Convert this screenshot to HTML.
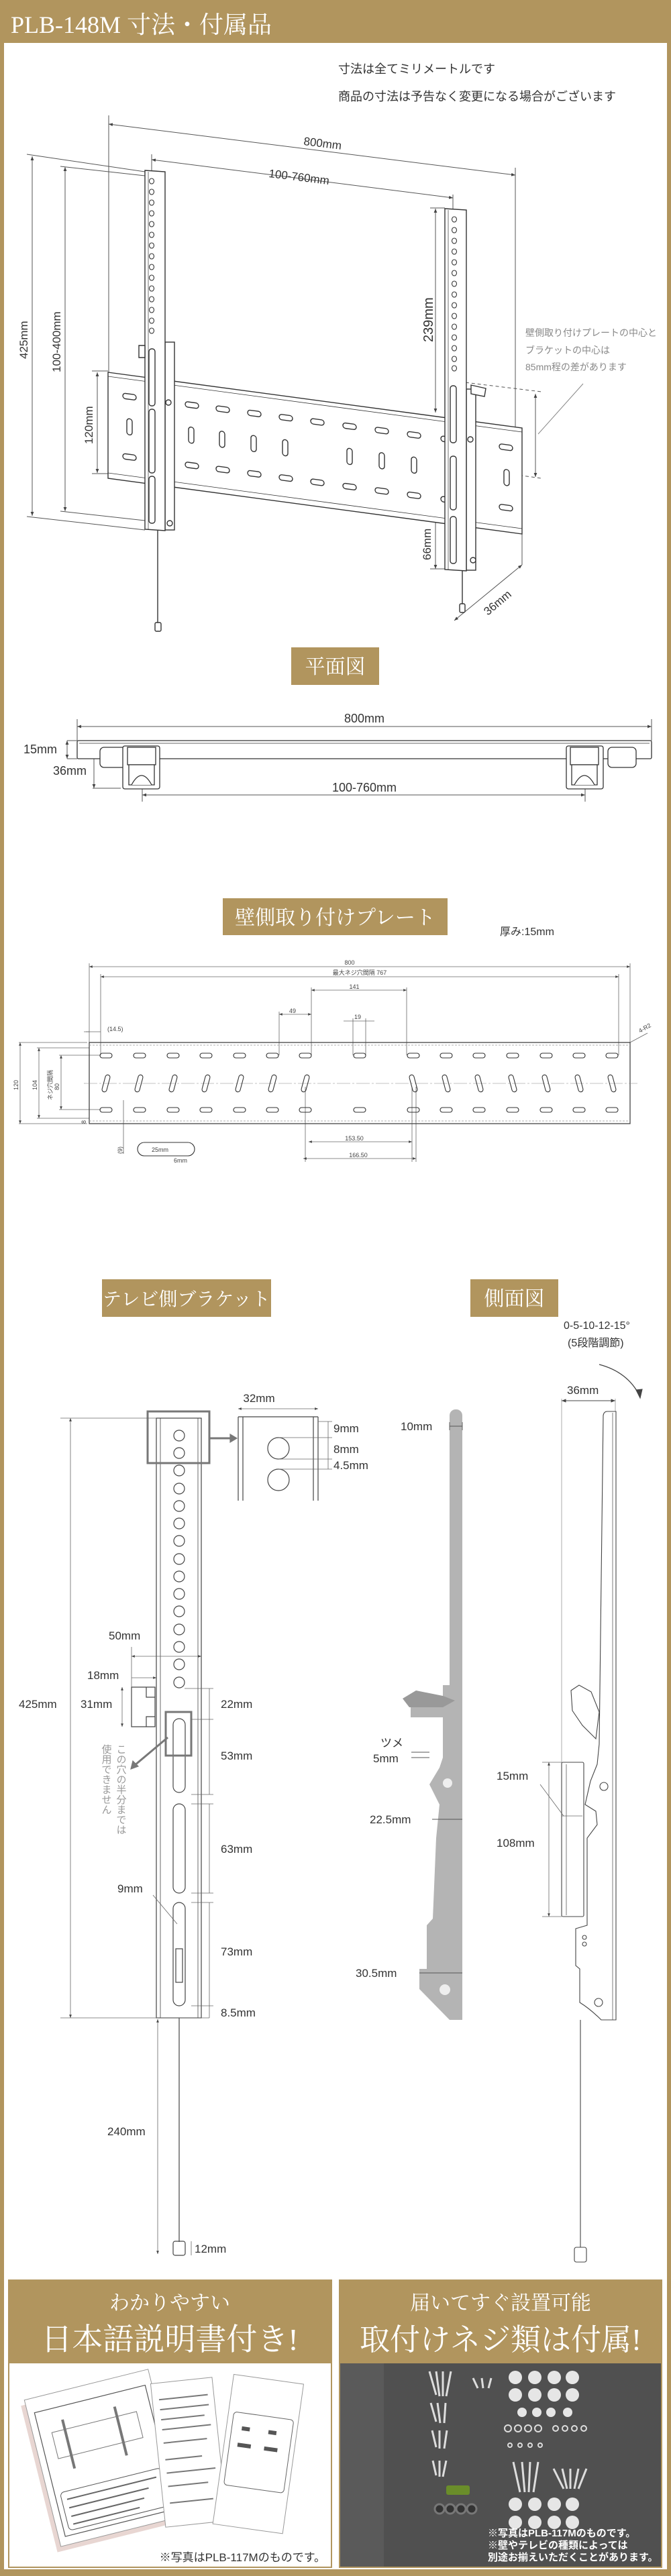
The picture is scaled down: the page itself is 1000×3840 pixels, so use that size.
<!DOCTYPE html>
<html><head><meta charset="utf-8"><style>
html,body{margin:0;padding:0;background:#fff}
svg{display:block}
.s{font-family:"Liberation Sans","Noto Sans CJK JP",sans-serif;fill:#333}
.sf{font-family:"Liberation Serif","Noto Serif CJK SC",serif;fill:#fff}
</style></head><body>
<svg width="1000" height="3840" viewBox="0 0 1000 3840" xmlns="http://www.w3.org/2000/svg">
<defs>
<marker id="a" viewBox="0 0 10 10" refX="10" refY="5" markerWidth="6" markerHeight="6" orient="auto-start-reverse"><path d="M0,1 L10,5 L0,9z" fill="#444"/></marker>
</defs>
<rect width="1000" height="3840" fill="#fff"/>
<rect x="0" y="0" width="1000" height="64" fill="#b1955e"/>
<rect x="0" y="0" width="6" height="3840" fill="#b1955e"/>
<rect x="994" y="0" width="6" height="3840" fill="#b1955e"/>
<rect x="0" y="3830" width="1000" height="10" fill="#b1955e"/>
<text x="16" y="49" class="sf" font-size="36">PLB-148M 寸法・付属品</text>
<text x="504" y="109" class="s" font-size="18">寸法は全てミリメートルです</text>
<text x="504" y="150" class="s" font-size="18">商品の寸法は予告なく変更になる場合がございます</text>

<!-- perspective diagram -->
<g stroke="#555" stroke-width="1" fill="none">
<line x1="162" y1="172" x2="162" y2="555"/>
<line x1="768" y1="250" x2="768" y2="640"/>
<line x1="162" y1="185" x2="768" y2="261" marker-start="url(#a)" marker-end="url(#a)"/>
<line x1="226" y1="230" x2="226" y2="258"/>
<line x1="675" y1="290" x2="675" y2="312"/>
<line x1="226" y1="238" x2="675" y2="295" marker-start="url(#a)" marker-end="url(#a)"/>
<line x1="40" y1="230" x2="216" y2="256"/>
<line x1="40" y1="770" x2="216" y2="790"/>
<line x1="48" y1="233" x2="48" y2="769" marker-start="url(#a)" marker-end="url(#a)"/>
<line x1="90" y1="248" x2="216" y2="262"/>
<line x1="90" y1="762" x2="216" y2="776"/>
<line x1="97" y1="249" x2="97" y2="762" marker-start="url(#a)" marker-end="url(#a)"/>
<line x1="137" y1="553" x2="161" y2="553"/>
<line x1="137" y1="706" x2="161" y2="706"/>
<line x1="145" y1="555" x2="145" y2="705" marker-start="url(#a)" marker-end="url(#a)"/>
<line x1="641" y1="310" x2="663" y2="310"/>
<line x1="649" y1="311" x2="649" y2="615" marker-start="url(#a)" marker-end="url(#a)"/>
<line x1="641" y1="773" x2="663" y2="773"/>
<line x1="641" y1="848" x2="663" y2="848"/>
<line x1="649" y1="773" x2="649" y2="848" marker-start="url(#a)" marker-end="url(#a)"/>
<line x1="778" y1="775" x2="778" y2="842"/>
<line x1="677" y1="925" x2="778" y2="842" marker-start="url(#a)" marker-end="url(#a)"/>
<line x1="676" y1="568" x2="807" y2="584" stroke-dasharray="5,4"/>
<line x1="676" y1="695" x2="807" y2="713" stroke-dasharray="5,4"/>
<line x1="798" y1="587" x2="798" y2="711" marker-start="url(#a)" marker-end="url(#a)"/>
<line x1="802" y1="647" x2="869" y2="572" stroke="#888"/>
</g>
<g class="s" font-size="17">
<text x="452" y="216" transform="rotate(7 452 216)">800mm</text>
<text x="400" y="264" transform="rotate(7 400 264)">100-760mm</text>
<text transform="translate(41,535) rotate(-90)">425mm</text>
<text transform="translate(90,555) rotate(-90)">100-400mm</text>
<text transform="translate(138,662) rotate(-90)">120mm</text>
<text transform="translate(645,510) rotate(-90)" font-size="20">239mm</text>
<text transform="translate(642,835) rotate(-90)">66mm</text>
<text transform="translate(727,918) rotate(-40)">36mm</text>
</g>
<g class="s" font-size="14" fill="#888" style="fill:#888">
<text x="783" y="501">壁側取り付けプレートの中心と</text>
<text x="783" y="527">ブラケットの中心は</text>
<text x="783" y="552">85mm程の差があります</text>
</g>
<!-- plate perspective -->
<g transform="matrix(1,0.1345,0,1,161,555)" stroke="#333" stroke-width="1.4" fill="#fff">
<rect x="0" y="0" width="617" height="158"/>
<line x1="0" y1="6" x2="617" y2="6" stroke-width="0.8"/>
<line x1="0" y1="150" x2="617" y2="150" stroke-width="0.8"/>
<g fill="none">
<rect x="22" y="28" width="20" height="8" rx="4"/><rect x="22" y="118" width="20" height="8" rx="4"/><rect x="28" y="65" width="8" height="24" rx="4"/>
<rect x="115" y="28" width="20" height="8" rx="4"/><rect x="161" y="28" width="20" height="8" rx="4"/><rect x="208" y="28" width="20" height="8" rx="4"/><rect x="255" y="28" width="20" height="8" rx="4"/><rect x="302" y="28" width="20" height="8" rx="4"/><rect x="350" y="28" width="20" height="8" rx="4"/><rect x="398" y="28" width="20" height="8" rx="4"/><rect x="446" y="28" width="20" height="8" rx="4"/><rect x="496" y="28" width="20" height="8" rx="4"/><rect x="583" y="28" width="20" height="8" rx="4"/>
<rect x="115" y="118" width="20" height="8" rx="4"/><rect x="161" y="118" width="20" height="8" rx="4"/><rect x="208" y="118" width="20" height="8" rx="4"/><rect x="255" y="118" width="20" height="8" rx="4"/><rect x="302" y="118" width="20" height="8" rx="4"/><rect x="350" y="118" width="20" height="8" rx="4"/><rect x="398" y="118" width="20" height="8" rx="4"/><rect x="446" y="118" width="20" height="8" rx="4"/><rect x="496" y="118" width="20" height="8" rx="4"/><rect x="583" y="118" width="20" height="8" rx="4"/>
<rect x="120" y="65" width="8" height="24" rx="4"/><rect x="166" y="65" width="8" height="24" rx="4"/><rect x="213" y="65" width="8" height="24" rx="4"/><rect x="260" y="65" width="8" height="24" rx="4"/><rect x="356" y="65" width="8" height="24" rx="4"/><rect x="404" y="65" width="8" height="24" rx="4"/><rect x="452" y="65" width="8" height="24" rx="4"/><rect x="590" y="65" width="8" height="24" rx="4"/>
</g>
</g>
<!-- left bracket -->
<g stroke="#333" stroke-width="1.4" fill="#fff">
<rect x="246" y="510" width="14" height="280"/>
<path d="M216,254 L246,256 L246,791 L216,789z"/>
<line x1="221" y1="256" x2="221" y2="789" stroke-width="0.7"/>
<rect x="222" y="520" width="9" height="85" rx="4" fill="none"/>
<rect x="222" y="610" width="9" height="95" rx="4" fill="none"/>
<rect x="222" y="710" width="9" height="70" rx="4" fill="none"/>
<line x1="235" y1="791" x2="235" y2="930"/>
<rect x="231" y="928" width="9" height="13" rx="2"/>
<path d="M207,515 l9,0 0,18 -9,0z"/>
<circle cx="251" cy="600" r="4"/><circle cx="253" cy="780" r="4"/>
</g>
<g fill="none" stroke="#333" stroke-width="1.1">
<ellipse cx="226" cy="270" rx="3.5" ry="4"/><ellipse cx="226" cy="286" rx="3.5" ry="4"/><ellipse cx="226" cy="302" rx="3.5" ry="4"/><ellipse cx="226" cy="318" rx="3.5" ry="4"/><ellipse cx="226" cy="334" rx="3.5" ry="4"/><ellipse cx="226" cy="350" rx="3.5" ry="4"/><ellipse cx="226" cy="366" rx="3.5" ry="4"/><ellipse cx="226" cy="382" rx="3.5" ry="4"/><ellipse cx="226" cy="398" rx="3.5" ry="4"/><ellipse cx="226" cy="414" rx="3.5" ry="4"/><ellipse cx="226" cy="430" rx="3.5" ry="4"/><ellipse cx="226" cy="446" rx="3.5" ry="4"/><ellipse cx="226" cy="462" rx="3.5" ry="4"/><ellipse cx="226" cy="478" rx="3.5" ry="4"/><ellipse cx="226" cy="493" rx="3.5" ry="4"/>
</g>
<!-- right bracket -->
<g stroke="#333" stroke-width="1.4" fill="#fff">
<rect x="695" y="580" width="14" height="270"/>
<path d="M663,311 L695,313 L695,851 L663,849z"/>
<line x1="668" y1="313" x2="668" y2="849" stroke-width="0.7"/>
<rect x="671" y="575" width="9" height="85" rx="4" fill="none"/>
<rect x="671" y="680" width="9" height="80" rx="4" fill="none"/>
<rect x="671" y="770" width="9" height="70" rx="4" fill="none"/>
<line x1="689" y1="851" x2="689" y2="902"/>
<rect x="685" y="900" width="8" height="13" rx="2"/>
<path d="M702,574 l22,5 -2,12 -20,-4z"/>
<circle cx="701" cy="655" r="4"/><circle cx="705" cy="835" r="4"/>
</g>
<g fill="none" stroke="#333" stroke-width="1.1">
<ellipse cx="677" cy="327" rx="3.5" ry="4"/><ellipse cx="677" cy="343" rx="3.5" ry="4"/><ellipse cx="677" cy="359" rx="3.5" ry="4"/><ellipse cx="677" cy="375" rx="3.5" ry="4"/><ellipse cx="677" cy="391" rx="3.5" ry="4"/><ellipse cx="677" cy="407" rx="3.5" ry="4"/><ellipse cx="677" cy="423" rx="3.5" ry="4"/><ellipse cx="677" cy="439" rx="3.5" ry="4"/><ellipse cx="677" cy="455" rx="3.5" ry="4"/><ellipse cx="677" cy="471" rx="3.5" ry="4"/><ellipse cx="677" cy="487" rx="3.5" ry="4"/><ellipse cx="677" cy="503" rx="3.5" ry="4"/><ellipse cx="677" cy="519" rx="3.5" ry="4"/><ellipse cx="677" cy="535" rx="3.5" ry="4"/><ellipse cx="677" cy="549" rx="3.5" ry="4"/>
</g>

<!-- 平面図 -->
<rect x="434" y="965" width="131" height="56" fill="#b1955e"/>
<text x="499.5" y="1004" class="sf" font-size="30" text-anchor="middle">平面図</text>
<g stroke="#555" stroke-width="1" fill="none">
<line x1="115" y1="1072" x2="115" y2="1104"/><line x1="971" y1="1072" x2="971" y2="1104"/>
<line x1="115" y1="1083" x2="971" y2="1083" marker-start="url(#a)" marker-end="url(#a)"/>
<line x1="100" y1="1104" x2="115" y2="1104"/><line x1="100" y1="1131" x2="115" y2="1131"/>
<line x1="100" y1="1104" x2="100" y2="1131" marker-start="url(#a)" marker-end="url(#a)"/>
<line x1="138" y1="1175" x2="180" y2="1175"/>
<line x1="140" y1="1104" x2="140" y2="1175" marker-start="url(#a)" marker-end="url(#a)"/>
<line x1="212" y1="1170" x2="212" y2="1195"/><line x1="872" y1="1170" x2="872" y2="1195"/>
<line x1="212" y1="1185" x2="872" y2="1185" marker-start="url(#a)" marker-end="url(#a)"/>
</g>
<g stroke="#333" stroke-width="1.3" fill="#fff">
<rect x="115" y="1104" width="856" height="27" rx="2"/>
<line x1="118" y1="1108" x2="968" y2="1108" stroke-width="0.7"/>
<rect x="149" y="1114" width="42" height="30" rx="6"/>
<rect x="183" y="1112" width="55" height="64" rx="3"/>
<rect x="190" y="1114" width="42" height="26"/>
<path d="M192,1140 l38,0 0,30 -38,0z"/>
<path d="M196,1170 q15,-28 30,0"/>
<rect x="906" y="1114" width="42" height="30" rx="6"/>
<rect x="844" y="1112" width="55" height="64" rx="3"/>
<rect x="850" y="1114" width="42" height="26"/>
<path d="M852,1140 l38,0 0,30 -38,0z"/>
<path d="M856,1170 q15,-28 30,0"/>
</g>
<g class="s" font-size="18">
<text x="543" y="1077" text-anchor="middle">800mm</text>
<text x="35" y="1123">15mm</text>
<text x="79" y="1155">36mm</text>
<text x="543" y="1180" text-anchor="middle">100-760mm</text>
</g>

<!-- 壁側取り付けプレート -->
<rect x="332" y="1339" width="335" height="55" fill="#b1955e"/>
<text x="499.5" y="1378" class="sf" font-size="30" text-anchor="middle">壁側取り付けプレート</text>
<text x="745" y="1394" class="s" font-size="16">厚み:15mm</text>
<g stroke="#666" stroke-width="0.8" fill="none">
<line x1="133" y1="1436" x2="133" y2="1554"/><line x1="939" y1="1436" x2="939" y2="1554"/>
<line x1="133" y1="1441" x2="939" y2="1441" marker-start="url(#a)" marker-end="url(#a)"/>
<line x1="150" y1="1452" x2="150" y2="1573"/><line x1="922" y1="1452" x2="922" y2="1573"/>
<line x1="150" y1="1456" x2="922" y2="1456" marker-start="url(#a)" marker-end="url(#a)"/>
<line x1="464" y1="1472" x2="464" y2="1573"/><line x1="606" y1="1472" x2="606" y2="1573"/>
<line x1="464" y1="1476" x2="606" y2="1476" marker-start="url(#a)" marker-end="url(#a)"/>
<line x1="416" y1="1508" x2="416" y2="1573"/>
<line x1="416" y1="1512" x2="464" y2="1512" marker-start="url(#a)" marker-end="url(#a)"/>
<line x1="526" y1="1518" x2="526" y2="1573"/><line x1="545" y1="1518" x2="545" y2="1573"/>
<line x1="512" y1="1522" x2="558" y2="1522"/>
<line x1="125" y1="1538" x2="150" y2="1538"/><line x1="128" y1="1538" x2="133" y2="1538"/>
<line x1="130" y1="1554" x2="28" y2="1554"/><line x1="130" y1="1675" x2="28" y2="1675"/>
<line x1="30" y1="1554" x2="30" y2="1675" marker-start="url(#a)" marker-end="url(#a)"/>
<line x1="55" y1="1562" x2="133" y2="1562"/><line x1="55" y1="1667" x2="133" y2="1667"/>
<line x1="58" y1="1562" x2="58" y2="1667" marker-start="url(#a)" marker-end="url(#a)"/>
<line x1="88" y1="1573" x2="150" y2="1573"/><line x1="88" y1="1654" x2="150" y2="1654"/>
<line x1="91" y1="1573" x2="91" y2="1654" marker-start="url(#a)" marker-end="url(#a)"/>
<line x1="184" y1="1640" x2="184" y2="1720"/>
<line x1="455" y1="1620" x2="455" y2="1732"/><line x1="614" y1="1620" x2="614" y2="1732"/><line x1="620" y1="1620" x2="620" y2="1732"/>
<line x1="460" y1="1702" x2="614" y2="1702" marker-start="url(#a)" marker-end="url(#a)"/>
<line x1="452" y1="1727" x2="620" y2="1727" marker-start="url(#a)" marker-end="url(#a)"/>
<line x1="939" y1="1554" x2="965" y2="1540"/>
</g>
<rect x="133" y="1554" width="806" height="121" fill="none" stroke="#444" stroke-width="1.3"/>
<line x1="133" y1="1558" x2="939" y2="1558" stroke="#999" stroke-width="0.8" stroke-dasharray="3,2"/>
<line x1="133" y1="1671" x2="939" y2="1671" stroke="#999" stroke-width="0.8" stroke-dasharray="3,2"/>
<line x1="125" y1="1615" x2="950" y2="1615" stroke="#888" stroke-width="0.6" stroke-dasharray="20,3,3,3"/>
<g fill="none" stroke="#333" stroke-width="1.1">
<rect x="149" y="1570" width="18" height="7" rx="3.5"/><rect x="199" y="1570" width="18" height="7" rx="3.5"/><rect x="249" y="1570" width="18" height="7" rx="3.5"/><rect x="298" y="1570" width="18" height="7" rx="3.5"/><rect x="348" y="1570" width="18" height="7" rx="3.5"/><rect x="397" y="1570" width="18" height="7" rx="3.5"/><rect x="446" y="1570" width="18" height="7" rx="3.5"/><rect x="527" y="1570" width="18" height="7" rx="3.5"/><rect x="607" y="1570" width="18" height="7" rx="3.5"/><rect x="656" y="1570" width="18" height="7" rx="3.5"/><rect x="705" y="1570" width="18" height="7" rx="3.5"/><rect x="755" y="1570" width="18" height="7" rx="3.5"/><rect x="805" y="1570" width="18" height="7" rx="3.5"/><rect x="854" y="1570" width="18" height="7" rx="3.5"/><rect x="903" y="1570" width="18" height="7" rx="3.5"/>
<rect x="149" y="1651" width="18" height="7" rx="3.5"/><rect x="199" y="1651" width="18" height="7" rx="3.5"/><rect x="249" y="1651" width="18" height="7" rx="3.5"/><rect x="298" y="1651" width="18" height="7" rx="3.5"/><rect x="348" y="1651" width="18" height="7" rx="3.5"/><rect x="397" y="1651" width="18" height="7" rx="3.5"/><rect x="446" y="1651" width="18" height="7" rx="3.5"/><rect x="527" y="1651" width="18" height="7" rx="3.5"/><rect x="607" y="1651" width="18" height="7" rx="3.5"/><rect x="656" y="1651" width="18" height="7" rx="3.5"/><rect x="705" y="1651" width="18" height="7" rx="3.5"/><rect x="755" y="1651" width="18" height="7" rx="3.5"/><rect x="805" y="1651" width="18" height="7" rx="3.5"/><rect x="854" y="1651" width="18" height="7" rx="3.5"/><rect x="903" y="1651" width="18" height="7" rx="3.5"/>
<g transform="translate(158,1615)"><rect x="-3.5" y="-13" width="7" height="26" rx="3.5" transform="rotate(15)"/></g>
<g transform="translate(207,1615)"><rect x="-3.5" y="-13" width="7" height="26" rx="3.5" transform="rotate(15)"/></g>
<g transform="translate(258,1615)"><rect x="-3.5" y="-13" width="7" height="26" rx="3.5" transform="rotate(15)"/></g>
<g transform="translate(307,1615)"><rect x="-3.5" y="-13" width="7" height="26" rx="3.5" transform="rotate(15)"/></g>
<g transform="translate(357,1615)"><rect x="-3.5" y="-13" width="7" height="26" rx="3.5" transform="rotate(15)"/></g>
<g transform="translate(406,1615)"><rect x="-3.5" y="-13" width="7" height="26" rx="3.5" transform="rotate(15)"/></g>
<g transform="translate(455,1615)"><rect x="-3.5" y="-13" width="7" height="26" rx="3.5" transform="rotate(15)"/></g>
<g transform="translate(616,1615)"><rect x="-3.5" y="-13" width="7" height="26" rx="3.5" transform="rotate(-15)"/></g>
<g transform="translate(665,1615)"><rect x="-3.5" y="-13" width="7" height="26" rx="3.5" transform="rotate(-15)"/></g>
<g transform="translate(714,1615)"><rect x="-3.5" y="-13" width="7" height="26" rx="3.5" transform="rotate(-15)"/></g>
<g transform="translate(764,1615)"><rect x="-3.5" y="-13" width="7" height="26" rx="3.5" transform="rotate(-15)"/></g>
<g transform="translate(814,1615)"><rect x="-3.5" y="-13" width="7" height="26" rx="3.5" transform="rotate(-15)"/></g>
<g transform="translate(863,1615)"><rect x="-3.5" y="-13" width="7" height="26" rx="3.5" transform="rotate(-15)"/></g>
<g transform="translate(912,1615)"><rect x="-3.5" y="-13" width="7" height="26" rx="3.5" transform="rotate(-15)"/></g>
<rect x="205" y="1703" width="85" height="20" rx="10"/>
</g>
<g class="s" font-size="9" style="fill:#444">
<text x="521" y="1438" text-anchor="middle">800</text>
<text x="536" y="1453" text-anchor="middle">最大ネジ穴間隔 767</text>
<text x="528" y="1474" text-anchor="middle">141</text>
<text x="436" y="1510" text-anchor="middle">49</text>
<text x="533" y="1519" text-anchor="middle">19</text>
<text x="160" y="1537">(14.5)</text>
<text x="528" y="1700" text-anchor="middle">153.50</text>
<text x="534" y="1725" text-anchor="middle">166.50</text>
<text x="226" y="1717">25mm</text>
<text x="259" y="1733">6mm</text>
<text x="954" y="1540" transform="rotate(-30 954 1540)">4-R2</text>
<text transform="translate(27,1625) rotate(-90)">120</text>
<text transform="translate(55,1625) rotate(-90)">104</text>
<text transform="translate(78,1640) rotate(-90)">ネジ穴間隔</text>
<text transform="translate(88,1625) rotate(-90)">80</text>
<text transform="translate(128,1675) rotate(-90)">8</text>
<text transform="translate(182,1720) rotate(-90)">(9)</text>
</g>

<!-- テレビ側ブラケット / 側面図 labels -->
<rect x="152" y="1907" width="252" height="56" fill="#b1955e"/>
<text x="278" y="1946" class="sf" font-size="28" text-anchor="middle">テレビ側ブラケット</text>
<rect x="701" y="1907" width="131" height="56" fill="#b1955e"/>
<text x="766.5" y="1946" class="sf" font-size="30" text-anchor="middle">側面図</text>

<!-- bracket -->
<g stroke="#444" stroke-width="1.2" fill="none">
<rect x="233" y="2114" width="67" height="894" fill="#fff"/>
<line x1="239" y1="2114" x2="239" y2="3008" stroke-width="0.8"/>
<line x1="295" y1="2114" x2="295" y2="3008" stroke-width="0.8"/>
<circle cx="267" cy="2140" r="8"/><circle cx="267" cy="2166" r="8"/><circle cx="267" cy="2192" r="8"/><circle cx="267" cy="2219" r="8"/><circle cx="267" cy="2245" r="8"/><circle cx="267" cy="2271" r="8"/><circle cx="267" cy="2297" r="8"/><circle cx="267" cy="2324" r="8"/><circle cx="267" cy="2350" r="8"/><circle cx="267" cy="2376" r="8"/><circle cx="267" cy="2402" r="8"/><circle cx="267" cy="2429" r="8"/><circle cx="267" cy="2455" r="8"/><circle cx="267" cy="2481" r="8"/><circle cx="267" cy="2508" r="8"/>
<rect x="258" y="2562" width="18" height="110" rx="9"/>
<rect x="258" y="2689" width="18" height="133" rx="9"/>
<rect x="258" y="2836" width="18" height="154" rx="9"/>
<rect x="262" y="2905" width="10" height="50"/>
<path d="M196,2515 h35 v59 h-35 z M218,2515 v15 h13 M218,2574 v-15 h13"/>
<line x1="267" y1="3008" x2="267" y2="3342"/>
<rect x="258" y="3341" width="18" height="21" rx="3"/>
<rect x="220" y="2104" width="92" height="77" stroke="#777" stroke-width="3"/>
<rect x="247" y="2552" width="38" height="65" stroke="#777" stroke-width="3"/>
<line x1="312" y1="2144" x2="350" y2="2144" stroke="#777" stroke-width="3"/>
<path d="M343,2138 l10,6 -10,6z" fill="#777" stroke="#777"/>
<line x1="250" y1="2590" x2="200" y2="2632" stroke="#777" stroke-width="3"/>
<path d="M195,2637 l3,-12 8,8z" fill="#777" stroke="#777"/>
<line x1="355" y1="2112" x2="355" y2="2237"/><line x1="362" y1="2112" x2="362" y2="2237"/>
<line x1="467" y1="2112" x2="467" y2="2237"/><line x1="474" y1="2112" x2="474" y2="2237"/>
<line x1="355" y1="2112" x2="474" y2="2112"/>
<circle cx="415" cy="2159" r="16"/><circle cx="415" cy="2206" r="16"/>
</g>
<g stroke="#666" stroke-width="0.8" fill="none">
<line x1="355" y1="2100" x2="474" y2="2100" marker-start="url(#a)" marker-end="url(#a)"/>
<line x1="474" y1="2119" x2="495" y2="2119"/><line x1="415" y1="2143" x2="495" y2="2143"/><line x1="415" y1="2175" x2="495" y2="2175"/><line x1="415" y1="2190" x2="495" y2="2190"/>
<line x1="489" y1="2119" x2="489" y2="2190"/>
<line x1="90" y1="2114" x2="233" y2="2114"/><line x1="90" y1="3008" x2="312" y2="3008"/>
<line x1="105" y1="2114" x2="105" y2="3008" marker-start="url(#a)" marker-end="url(#a)"/>
<line x1="196" y1="2455" x2="196" y2="2515"/>
<line x1="196" y1="2469" x2="300" y2="2469" marker-start="url(#a)" marker-end="url(#a)"/>
<line x1="196" y1="2501" x2="233" y2="2501" marker-end="url(#a)"/>
<line x1="182" y1="2515" x2="182" y2="2574" marker-start="url(#a)" marker-end="url(#a)"/>
<line x1="275" y1="2517" x2="318" y2="2517"/><line x1="285" y1="2563" x2="318" y2="2563"/><line x1="285" y1="2675" x2="318" y2="2675"/><line x1="285" y1="2689" x2="318" y2="2689"/><line x1="285" y1="2822" x2="318" y2="2822"/><line x1="285" y1="2836" x2="318" y2="2836"/><line x1="285" y1="2990" x2="318" y2="2990"/>
<line x1="312" y1="2517" x2="312" y2="2563"/><line x1="312" y1="2563" x2="312" y2="2675"/><line x1="312" y1="2689" x2="312" y2="2822"/><line x1="312" y1="2836" x2="312" y2="2990"/>
<line x1="312" y1="2990" x2="312" y2="3008"/>
<line x1="235" y1="3010" x2="235" y2="3360" marker-start="url(#a)" marker-end="url(#a)"/>
<line x1="285" y1="3341" x2="285" y2="3362"/>
<line x1="228" y1="2825" x2="264" y2="2868"/>
</g>
<g class="s" font-size="17">
<text x="386" y="2090" text-anchor="middle">32mm</text>
<text x="497" y="2135">9mm</text>
<text x="497" y="2166">8mm</text>
<text x="497" y="2190">4.5mm</text>
<text x="28" y="2546">425mm</text>
<text x="162" y="2444">50mm</text>
<text x="130" y="2503">18mm</text>
<text x="120" y="2546">31mm</text>
<text x="329" y="2546">22mm</text>
<text x="329" y="2623">53mm</text>
<text x="329" y="2762">63mm</text>
<text x="175" y="2821">9mm</text>
<text x="329" y="2915">73mm</text>
<text x="329" y="3006">8.5mm</text>
<text x="160" y="3183">240mm</text>
<text x="290" y="3358">12mm</text>
</g>
<g class="s" font-size="15" style="fill:#999">
<text x="180" y="2600" writing-mode="tb">この穴の半分までは</text>
<text x="158" y="2600" writing-mode="tb">使用できません</text>
</g>

<!-- side photo -->
<g fill="#b4b4b4">
<rect x="670" y="2101" width="19" height="910" rx="9"/>
<path d="M660,2512 L689,2512 L689,3011 L670,3011 L625,2965 L625,2935 L636,2935 L636,2870 L645,2860 L650,2740 L655,2690 L640,2660 L655,2635 L660,2620 L660,2560 L612,2560 L612,2545 L660,2545z"/>
<path d="M600,2532 L620,2520 L660,2528 L678,2535 L660,2545 L610,2545z" fill="#999"/>
</g>
<circle cx="667" cy="2658" r="7" fill="#eee"/>
<circle cx="663" cy="2966" r="8" fill="#eee"/>
<g stroke="#555" stroke-width="0.9" fill="none">
<line x1="670" y1="2126" x2="689" y2="2126"/><line x1="670" y1="2120" x2="670" y2="2132"/><line x1="689" y1="2120" x2="689" y2="2132"/>
<line x1="644" y1="2712" x2="689" y2="2712"/><line x1="625" y1="2941" x2="689" y2="2941"/>
<line x1="613" y1="2612" x2="640" y2="2612"/><line x1="613" y1="2620" x2="640" y2="2620"/>
</g>
<g class="s" font-size="17">
<text x="597" y="2132">10mm</text>
<text x="567" y="2604">ツメ</text>
<text x="556" y="2627">5mm</text>
<text x="551" y="2718">22.5mm</text>
<text x="530" y="2947">30.5mm</text>
<text x="840" y="1981" font-size="16">0-5-10-12-15°</text>
<text x="846" y="2007" font-size="16">(5段階調節)</text>
<text x="845" y="2078">36mm</text>
<text x="740" y="2653">15mm</text>
<text x="740" y="2753">108mm</text>
</g>
<!-- side profile -->
<g stroke="#444" stroke-width="1.1" fill="none">
<path d="M893,2034 Q935,2045 953,2080" stroke-width="1.3"/>
<path d="M948,2072 l6,12 3,-13z" fill="#444"/>
<line x1="837" y1="2085" x2="837" y2="2630" stroke="#888" stroke-width="0.7"/>
<line x1="917" y1="2085" x2="917" y2="2104" stroke="#888" stroke-width="0.7"/>
<line x1="837" y1="2088" x2="917" y2="2088" marker-start="url(#a)" marker-end="url(#a)"/>
<path d="M905,2104 L918,2104 L918,3011 L896,3011 Q880,2995 864,2985 L864,2935 L858,2930 L858,2875 L875,2870 L875,2740 L890,2720 L888,2700 L872,2690 L880,2655 L890,2630 L893,2600 L899,2110 Q900,2104 905,2104z"/>
<line x1="913" y1="2106" x2="913" y2="3011" stroke-width="0.7"/>
<path d="M851,2520 l12,-8 18,10 12,30 -5,40 -20,-20 -15,-22z"/>
<rect x="837" y="2627" width="33" height="230" rx="2"/>
<line x1="844" y1="2630" x2="844" y2="2855" stroke-width="0.7"/>
<circle cx="900" cy="2663" r="6"/><circle cx="892" cy="2985" r="6"/>
<circle cx="871" cy="2888" r="3"/><circle cx="871" cy="2898" r="3"/>
<line x1="865" y1="3011" x2="865" y2="3352"/>
<rect x="856" y="3350" width="18" height="22" rx="3" fill="#fff"/>
</g>
<g stroke="#666" stroke-width="0.8" fill="none">
<line x1="808" y1="2627" x2="837" y2="2627"/><line x1="808" y1="2857" x2="837" y2="2857"/>
<line x1="818" y1="2627" x2="818" y2="2857" marker-start="url(#a)" marker-end="url(#a)"/>
<line x1="805" y1="2660" x2="840" y2="2707"/>
<line x1="837" y1="2707" x2="868" y2="2707"/>
</g>

<!-- bottom panels -->
<rect x="12" y="3398" width="483" height="430" fill="#b1955e"/>
<rect x="14" y="3523" width="479" height="303" fill="#fff"/>
<text x="253" y="3443" class="sf" font-size="30" text-anchor="middle">わかりやすい</text>
<text x="253" y="3503" class="sf" font-size="46" text-anchor="middle">日本語説明書付き!</text>
<g transform="rotate(-14 150 3670)">
<rect x="55" y="3560" width="190" height="225" fill="#e8d6d2"/>
<rect x="62" y="3553" width="190" height="225" fill="#fff" stroke="#999"/>
<rect x="72" y="3575" width="170" height="190" fill="none" stroke="#555" stroke-width="1.2"/>
<rect x="90" y="3610" width="130" height="40" fill="none" stroke="#777"/>
<line x1="110" y1="3595" x2="110" y2="3670" stroke="#777" stroke-width="4"/>
<line x1="190" y1="3595" x2="190" y2="3670" stroke="#777" stroke-width="4"/>
<rect x="80" y="3700" width="155" height="58" rx="6" fill="none" stroke="#555"/>
<g stroke="#666" stroke-width="2"><line x1="88" y1="3712" x2="225" y2="3712"/><line x1="88" y1="3725" x2="210" y2="3725"/><line x1="88" y1="3738" x2="200" y2="3738"/><line x1="88" y1="3750" x2="190" y2="3750"/></g>
</g>
<g transform="rotate(-6 310 3650)">
<rect x="235" y="3545" width="92" height="215" fill="#fff" stroke="#999"/>
<g stroke="#777" stroke-width="2"><line x1="245" y1="3570" x2="318" y2="3570"/><line x1="245" y1="3585" x2="318" y2="3585"/><line x1="245" y1="3600" x2="310" y2="3600"/><line x1="245" y1="3615" x2="318" y2="3615"/><line x1="245" y1="3635" x2="310" y2="3635"/><line x1="245" y1="3660" x2="300" y2="3660"/><line x1="245" y1="3680" x2="318" y2="3680"/><line x1="245" y1="3700" x2="305" y2="3700"/><line x1="245" y1="3725" x2="310" y2="3725"/></g>
</g>
<g transform="rotate(8 380 3660)">
<rect x="332" y="3545" width="105" height="225" fill="#fff" stroke="#999"/>
<rect x="340" y="3600" width="90" height="110" rx="5" fill="none" stroke="#666"/>
<g fill="#555"><rect x="355" y="3620" width="12" height="6"/><rect x="395" y="3620" width="12" height="6"/><rect x="352" y="3645" width="20" height="6"/><rect x="392" y="3645" width="20" height="6"/></g>
</g>
<text x="485" y="3818" class="s" font-size="17" text-anchor="end" style="fill:#333">※写真はPLB-117Mのものです。</text>

<rect x="505" y="3398" width="482" height="430" fill="#b1955e"/>
<rect x="507" y="3523" width="478" height="303" fill="#505050"/>
<rect x="507" y="3523" width="65" height="303" fill="#5a5a5a"/>
<text x="746" y="3443" class="sf" font-size="30" text-anchor="middle">届いてすぐ設置可能</text>
<text x="746" y="3503" class="sf" font-size="45" text-anchor="middle">取付けネジ類は付属!</text>
<g stroke="#ddd" stroke-width="3">
<line x1="640" y1="3535" x2="650" y2="3570"/><line x1="650" y1="3535" x2="655" y2="3572"/><line x1="660" y1="3535" x2="660" y2="3572"/><line x1="672" y1="3535" x2="665" y2="3572"/>
<line x1="642" y1="3582" x2="650" y2="3610"/><line x1="652" y1="3582" x2="656" y2="3612"/><line x1="664" y1="3582" x2="662" y2="3612"/>
<line x1="644" y1="3623" x2="650" y2="3648"/><line x1="655" y1="3623" x2="655" y2="3650"/><line x1="666" y1="3623" x2="662" y2="3650"/>
<line x1="645" y1="3668" x2="650" y2="3690"/><line x1="655" y1="3668" x2="655" y2="3692"/><line x1="665" y1="3668" x2="660" y2="3692"/>
<line x1="705" y1="3545" x2="712" y2="3560"/><line x1="718" y1="3545" x2="720" y2="3560"/><line x1="732" y1="3545" x2="728" y2="3560"/>
<line x1="765" y1="3670" x2="775" y2="3715"/><line x1="778" y1="3670" x2="782" y2="3715"/><line x1="790" y1="3670" x2="788" y2="3715"/><line x1="802" y1="3670" x2="795" y2="3715"/>
<line x1="825" y1="3680" x2="840" y2="3710"/><line x1="838" y1="3680" x2="845" y2="3710"/><line x1="850" y1="3680" x2="850" y2="3710"/><line x1="862" y1="3680" x2="856" y2="3710"/><line x1="874" y1="3680" x2="862" y2="3710"/>
</g>
<g fill="#e6e6e6">
<circle cx="768" cy="3544" r="10"/><circle cx="797" cy="3544" r="10"/><circle cx="826" cy="3544" r="10"/><circle cx="853" cy="3544" r="10"/>
<circle cx="768" cy="3570" r="10"/><circle cx="797" cy="3570" r="10"/><circle cx="826" cy="3570" r="10"/><circle cx="853" cy="3570" r="10"/>
<circle cx="778" cy="3596" r="7"/><circle cx="800" cy="3596" r="7"/><circle cx="821" cy="3596" r="7"/><circle cx="846" cy="3596" r="7"/>
<circle cx="768" cy="3733" r="10"/><circle cx="797" cy="3733" r="10"/><circle cx="826" cy="3733" r="10"/><circle cx="853" cy="3733" r="10"/>
<circle cx="768" cy="3760" r="10"/><circle cx="797" cy="3760" r="10"/><circle cx="826" cy="3760" r="10"/><circle cx="853" cy="3760" r="10"/>
</g>
<g fill="none" stroke="#ddd" stroke-width="2">
<circle cx="757" cy="3620" r="5"/><circle cx="772" cy="3620" r="5"/><circle cx="787" cy="3620" r="5"/><circle cx="802" cy="3620" r="5"/>
<circle cx="828" cy="3620" r="4"/><circle cx="842" cy="3620" r="4"/><circle cx="856" cy="3620" r="4"/><circle cx="870" cy="3620" r="4"/>
<circle cx="760" cy="3645" r="3"/><circle cx="775" cy="3645" r="3"/><circle cx="790" cy="3645" r="3"/><circle cx="805" cy="3645" r="3"/>
</g>
<g fill="#333" stroke="#777" stroke-width="3">
<circle cx="655" cy="3740" r="7"/><circle cx="671" cy="3740" r="7"/><circle cx="687" cy="3740" r="7"/><circle cx="703" cy="3740" r="7"/>
</g>
<rect x="665" y="3705" width="35" height="14" rx="3" fill="#6a8d2a"/>
<g class="s" font-size="15" font-weight="bold" style="fill:#fff">
<text x="727" y="3781">※写真はPLB-117Mのものです。</text>
<text x="727" y="3799">※壁やテレビの種類によっては</text>
<text x="727" y="3817">別途お揃えいただくことがあります。</text>
</g>
</svg>
</body></html>
